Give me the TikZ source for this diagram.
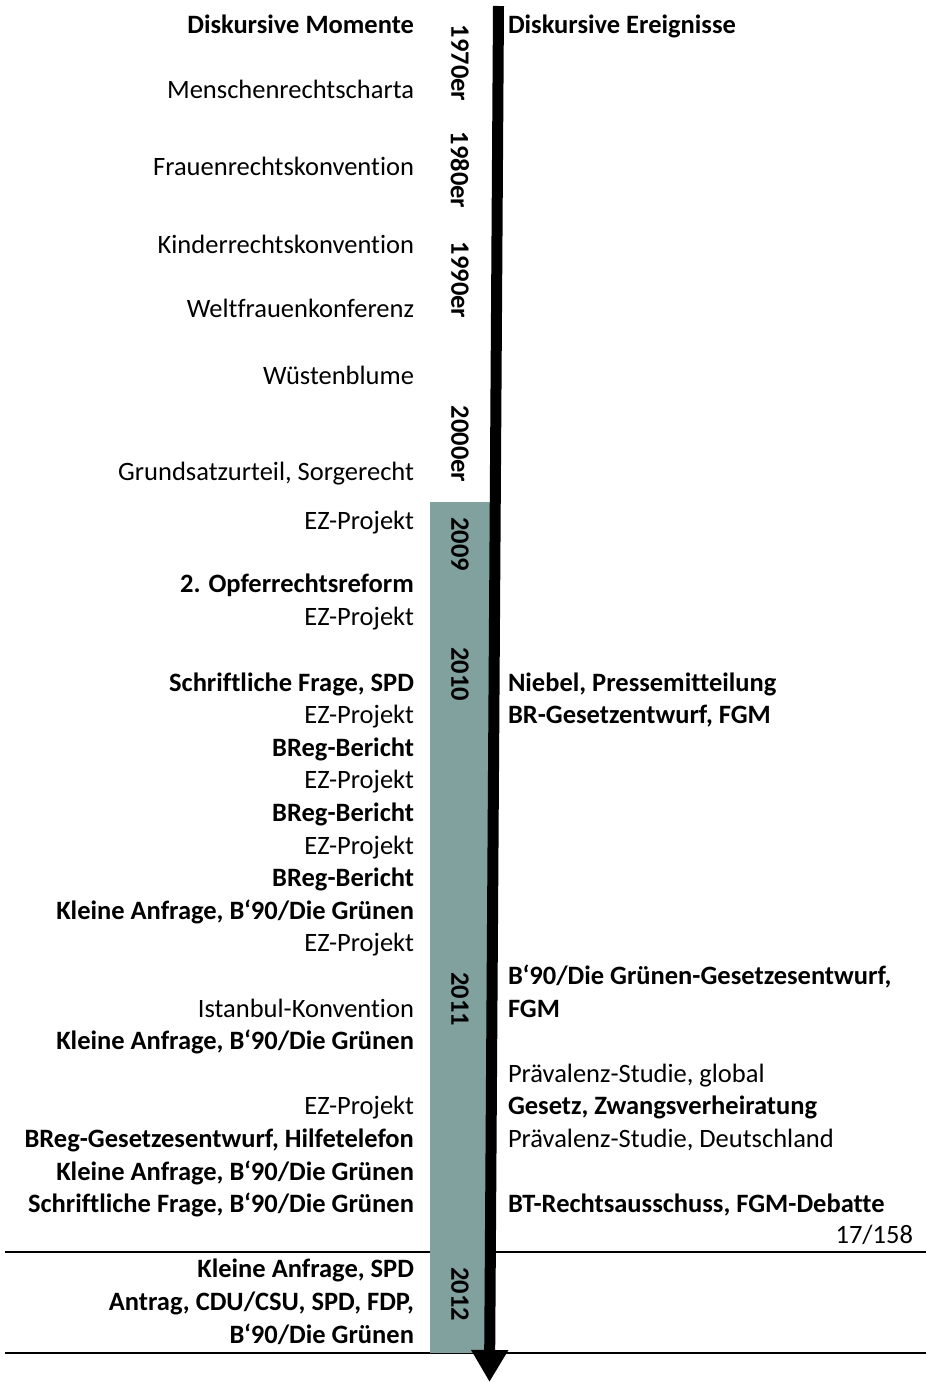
\documentclass[tikz,border=0pt]{standalone}
\usepackage{fontspec}
\setmainfont{Carlito}[Ligatures=NoCommon]
\usetikzlibrary{arrows.meta}
\definecolor{barteal}{RGB}{128,161,158}
\begin{document}
\begin{tikzpicture}[x=1pt,y=-1pt,
  every node/.style={inner sep=0pt,outer sep=0pt,font=\fontsize{26.5}{31}\selectfont},
  lt/.style={anchor=base east},
  ltb/.style={anchor=base east,font=\fontsize{26.5}{31}\selectfont\bfseries},
  rt/.style={anchor=base west},
  rtb/.style={anchor=base west,font=\fontsize{26.5}{31}\selectfont\bfseries},
  period/.style={anchor=center,rotate=-90,font=\fontsize{26.5}{31}\selectfont\bfseries},
  rule/.style={line width=2.5pt},
  timeline/.style={line width=11pt,-{Triangle[length=32pt,width=35pt]}}]
\useasboundingbox (0,0) rectangle (926,1382);

% separator lines at the end of 2011 and 2012
\coordinate (r1a) at (5,1252);  \coordinate (r1b) at (926,1252);
\coordinate (r2a) at (5,1353);  \coordinate (r2b) at (926,1353);
\draw[rule] (r1a) -- (r1b);
\draw[rule] (r2a) -- (r2b);

% shaded band for the years 2009--2012
\fill[barteal] (430,502) rectangle (490,1353);

% time axis
\coordinate (axtop) at (498.5,6);
\coordinate (axtip) at (489.5,1382);
\draw[timeline] (axtop) -- (axtip);

% period labels
\node[period] (p70) at (460,63) {1970er};
\node[period] (p80) at (460,170) {1980er};
\node[period] (p90) at (460,280) {1990er};
\node[period] (p00) at (460,444) {2000er};
\node[period] (p09) at (460,544) {2009};
\node[period] (p10) at (460,674) {2010};
\node[period] (p11) at (460,999) {2011};
\node[period] (p12) at (460,1294) {2012};

% left column
\node[ltb] (hl) at (414,33) {Diskursive Momente};
\node[lt] (l1) at (414,98) {Menschenrechtscharta};
\node[lt] (l2) at (414,175) {Frauenrechtskonvention};
\node[lt] (l3) at (414,253) {Kinderrechtskonvention};
\node[lt] (l4) at (414,317) {Weltfrauenkonferenz};
\node[lt] (l5) at (414,384) {Wüstenblume};
\node[lt] (l6) at (414,480) {Grundsatzurteil, Sorgerecht};
\node[lt] (l7) at (414,529) {EZ-Projekt};
\node[ltb] (l8) at (414,592) {2. Opferrechtsreform};
\node[lt] (l9) at (414,625) {EZ-Projekt};
\node[ltb] (m00) at (414,691) {Schriftliche Frage, SPD};
\node[lt] (m01) at (414,723.6) {EZ-Projekt};
\node[ltb] (m02) at (414,756.2) {BReg-Bericht};
\node[lt] (m03) at (414,788.8) {EZ-Projekt};
\node[ltb] (m04) at (414,821.4) {BReg-Bericht};
\node[lt] (m05) at (414,854) {EZ-Projekt};
\node[ltb] (m06) at (414,886.6) {BReg-Bericht};
\node[ltb] (m07) at (414,919.2) {Kleine Anfrage, B‘90/Die Grünen};
\node[lt] (m08) at (414,951.8) {EZ-Projekt};
\node[lt] (m10) at (414,1017) {Istanbul-Konvention};
\node[ltb] (m11) at (414,1049.6) {Kleine Anfrage, B‘90/Die Grünen};
\node[lt] (m13) at (414,1114.8) {EZ-Projekt};
\node[ltb] (m14) at (414,1147.4) {BReg-Gesetzesentwurf, Hilfetelefon};
\node[ltb] (m15) at (414,1180) {Kleine Anfrage, B‘90/Die Grünen};
\node[ltb] (m16) at (414,1212.6) {Schriftliche Frage, B‘90/Die Grünen};
\node[ltb] (m18) at (414,1277.8) {Kleine Anfrage, SPD};
\node[ltb] (m19) at (414,1310.4) {Antrag, CDU/CSU, SPD, FDP,};
\node[ltb] (m20) at (414,1343) {B‘90/Die Grünen};

% right column
\node[rtb] (hr) at (508,33) {Diskursive Ereignisse};
\node[rtb] (n00) at (508,691) {Niebel, Pressemitteilung};
\node[rtb] (n01) at (508,723.6) {BR-Gesetzentwurf, FGM};
\node[rtb] (n09) at (508,984.4) {B‘90/Die Grünen-Gesetzesentwurf,};
\node[rtb] (n10) at (508,1017) {FGM};
\node[rt] (n12) at (508,1082.2) {Prävalenz-Studie, global};
\node[rtb] (n13) at (508,1114.8) {Gesetz, Zwangsverheiratung};
\node[rt] (n14) at (508,1147.4) {Prävalenz-Studie, Deutschland};
\node[rtb] (n16) at (508,1212.6) {BT-Rechtsausschuss, FGM-Debatte};
\node[anchor=base east] (pg) at (913,1243) {17/158};
\end{tikzpicture}
\end{document}
